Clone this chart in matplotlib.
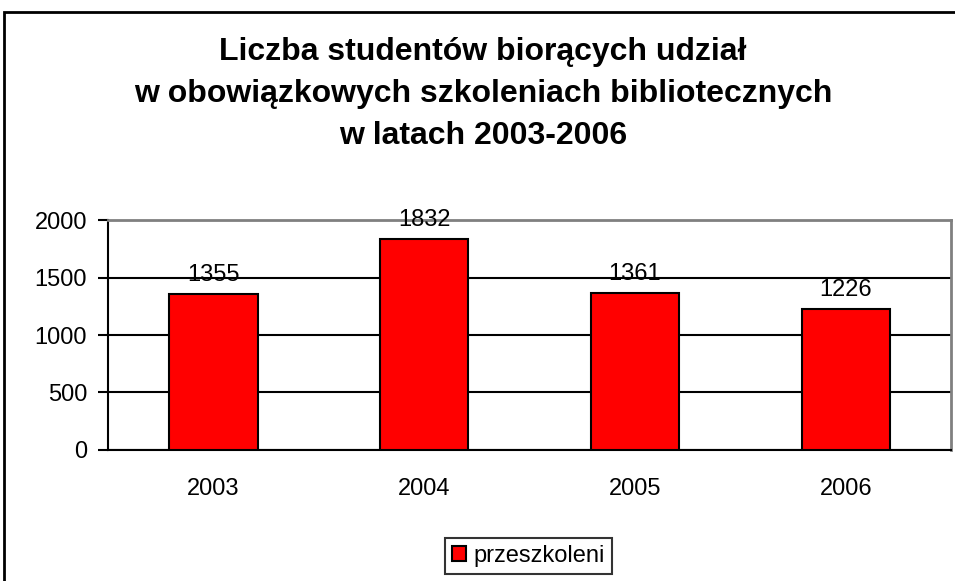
import matplotlib.pyplot as plt
from matplotlib.patches import Rectangle

years = ["2003", "2004", "2005", "2006"]
values = [1355, 1832, 1361, 1226]
series_name = "przeszkoleni"
title = ("Liczba studentów biorących udział\n"
         "w obowiązkowych szkoleniach bibliotecznych\n"
         "w latach 2003-2006")

plt.rcParams['font.family'] = ['Liberation Sans', 'DejaVu Sans']

fig = plt.figure(figsize=(9.55, 5.81), dpi=100)
ax = fig.add_axes([0.113, 0.2255, 0.883, 0.3958])

# outer chart border (right and bottom run off the image)
fig.patches.append(Rectangle((4 / 955, -0.05), 1.1, 1 - 12 / 581 + 0.05,
                             transform=fig.transFigure, fill=False,
                             edgecolor='black', linewidth=2))

x = range(len(years))
bars = ax.bar(x, values, width=0.42, color='#ff0000', edgecolor='black',
              linewidth=1.5, label=series_name, zorder=3)
for xi, v in zip(x, values):
    ax.text(xi, v + 70, str(v), ha='center', va='bottom', fontsize=17)

ax.set_xlim(-0.5, 3.5)
ax.set_ylim(0, 2000)
ax.set_yticks([0, 500, 1000, 1500, 2000])
ax.set_xticks(list(x))
ax.set_xticklabels(years)
ax.tick_params(axis='both', labelsize=17, length=7, width=1.5, color='black')
ax.tick_params(axis='y', pad=8)
ax.tick_params(axis='x', length=0, pad=20)
ax.grid(axis='y', color='black', linewidth=1.5, zorder=0)
ax.spines['left'].set_linewidth(1.5)
ax.spines['bottom'].set_linewidth(1.5)
ax.spines['top'].set_color('#808080')
ax.spines['right'].set_color('#808080')
ax.spines['top'].set_linewidth(2)
ax.spines['right'].set_linewidth(2)

fig.text(0.506, 0.937, title, ha='center', va='top', fontsize=23,
         fontweight='bold', linespacing=1.52)

leg = fig.legend(loc='center', bbox_to_anchor=(0.553, 0.043), fontsize=17,
                 frameon=True, fancybox=False, handlelength=0.6,
                 handleheight=0.6, handletextpad=0.3, borderpad=0.3)
leg.get_frame().set_edgecolor('black')
leg.get_frame().set_linewidth(1.5)

fig.savefig('out.png', dpi=100)
